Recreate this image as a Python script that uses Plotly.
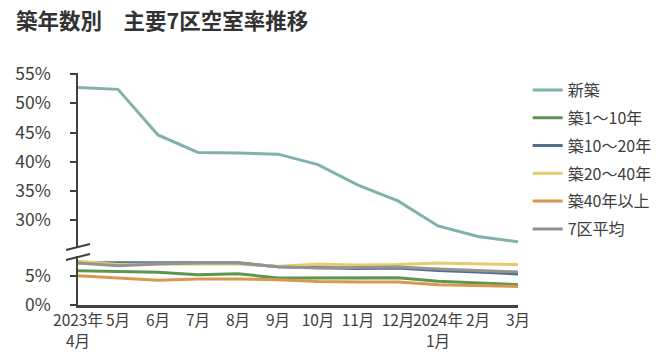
import plotly.graph_objects as go

months = ["2023年<br>4月", "5月", "6月", "7月", "8月", "9月", "10月", "11月", "12月", "2024年<br>1月", "2月", "3月"]

shinchiku = [52.7, 52.4, 44.6, 41.6, 41.5, 41.3, 39.5, 36.0, 33.3, 29.0, 27.2, 26.3]
chiku_1_10 = [5.85, 5.68, 5.56, 5.17, 5.34, 4.6, 4.6, 4.6, 4.66, 4.03, 3.75, 3.46]
chiku_10_20 = [7.2, 7.2, 7.1, 7.2, 7.2, 6.5, 6.3, 6.2, 6.3, 5.86, 5.63, 5.29]
chiku_20_40 = [7.44, 6.9, 7.0, 7.0, 7.0, 6.6, 6.93, 6.83, 6.88, 7.17, 7.0, 6.88]
chiku_40 = [5.0, 4.6, 4.2, 4.44, 4.44, 4.3, 4.0, 3.9, 3.93, 3.46, 3.34, 3.17]
avg7 = [7.17, 6.7, 7.0, 7.17, 7.17, 6.5, 6.3, 6.35, 6.49, 6.14, 5.9, 5.63]

names = ["新築", "築1～10年", "築10～20年", "築20～40年", "築40年以上", "7区平均"]
colors = ["#7FB2AC", "#5E9650", "#506D8E", "#E3CD6E", "#D9984F", "#939393"]

upper_ticks = [30, 35, 40, 45, 50, 55]
lower_ticks = [0, 5]

x = list(range(len(months)))
fig = go.Figure()
series = [shinchiku, chiku_1_10, chiku_10_20, chiku_20_40, chiku_40, avg7]
for i, (nm, vals, c) in enumerate(zip(names, series, colors)):
    fig.add_trace(go.Scatter(
        x=x, y=vals, name=nm, mode="lines",
        line=dict(color=c, width=3),
        yaxis="y2" if i == 0 else "y",
        legendgroup=nm,
    ))

axis_col = "#404040"
pad = "\u00a0" * 4
fig.update_layout(
    width=669, height=362,
    margin=dict(l=78, r=135, t=73, b=57),
    paper_bgcolor="white", plot_bgcolor="white",
    font=dict(family="Noto Sans CJK JP", color="#404040"),
    title=dict(text="<b>築年数別　主要7区空室率推移</b>", x=16/669, xanchor="left",
               xref="container", yref="container", y=1-21/362, yanchor="middle",
               font=dict(size=21.5, color="#333333")),
    xaxis=dict(range=[0, 11], tickmode="array", tickvals=x, ticktext=months,
               tickangle=0, automargin=False,
               showline=True, linecolor=axis_col, linewidth=2.5, showgrid=False,
               zeroline=False, ticks="", tickfont=dict(size=15.5, color="#404040"),
               anchor="y"),
    yaxis=dict(domain=[0, 0.21], range=[0, 8.3], tickmode="array", tickvals=lower_ticks,
               ticktext=[f"{v}%{pad}" for v in lower_ticks], automargin=False,
               showline=True, linecolor=axis_col, linewidth=2, showgrid=False,
               zeroline=False, ticks="outside", ticklen=6, tickcolor=axis_col, tickwidth=2,
               tickfont=dict(size=17.5, color="#404040")),
    yaxis2=dict(domain=[0.245, 1], range=[25.2, 55.2], tickmode="array", tickvals=upper_ticks,
                ticktext=[f"{v}%{pad}" for v in upper_ticks], automargin=False,
                showline=True, linecolor=axis_col, linewidth=2, showgrid=False,
                zeroline=False, ticks="outside", ticklen=6, tickcolor=axis_col, tickwidth=2,
                tickfont=dict(size=17.5, color="#404040"), anchor="x"),
    legend=dict(x=1.022, y=1.0, xanchor="left", yanchor="top",
                font=dict(size=16, color="#404040"), tracegroupgap=4,
                bgcolor="rgba(0,0,0,0)"),
    showlegend=True,
)

# axis break marks
for yp in [(305-247)/232, (305-257)/232]:
    fig.add_shape(type="line", xref="paper", yref="paper",
                  xsizemode="pixel", ysizemode="pixel",
                  xanchor=0, yanchor=yp, x0=-12, x1=12, y0=-3, y1=3,
                  line=dict(color=axis_col, width=2))

fig.write_html("out.html", config={"displayModeBar": False},
               post_script="document.body.style.margin='0px';")
